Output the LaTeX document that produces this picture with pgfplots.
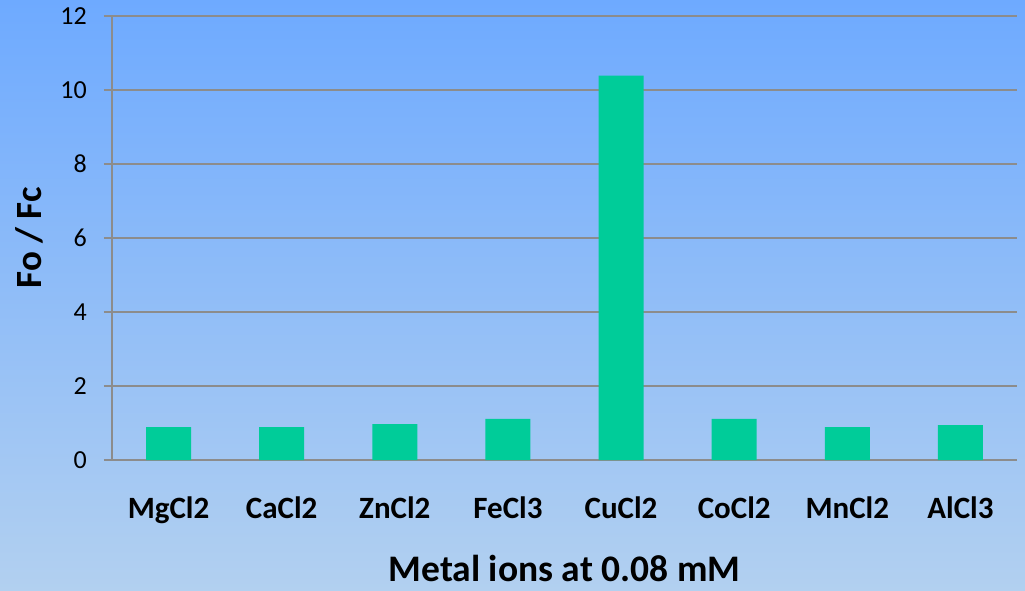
\documentclass[border=0pt]{standalone}
\usepackage{pgfplots}
\pgfplotsset{compat=1.18}
\usepackage{fontspec}
\setmainfont{Carlito}
\definecolor{barcol}{HTML}{00CC99}
\definecolor{bgtop}{HTML}{6EAAFF}
\definecolor{bgbot}{HTML}{B2D0F0}
\definecolor{gridcol}{HTML}{8C8C8C}

\begin{document}
\begin{tikzpicture}
  \shade[top color=bgtop, bottom color=bgbot] (0pt,0pt) rectangle (1025pt,-591pt);
  \useasboundingbox (0pt,0pt) rectangle (1025pt,-591pt);
  \begin{axis}[
      at={(112pt,-460pt)}, anchor=south west,
      width=905pt, height=444pt, scale only axis,
      ybar, bar width=45pt,
      xmin=-0.5, xmax=7.5,
      ymin=0, ymax=12,
      ytick={0,2,...,12},
      xtick=data,
      xticklabels={MgCl2, CaCl2, ZnCl2, FeCl3, CuCl2, CoCl2, MnCl2, AlCl3},
      axis x line*=bottom, axis y line*=left,
      axis line style={draw=gridcol, line width=1.5pt, -},
      ymajorgrids=true,
      grid style={draw=gridcol, line width=1.5pt},
      major tick length=8pt,
      ytick style={draw=gridcol, line width=1.5pt},
      xtick style={draw=none},
      tick align=outside,
      /pgf/number format/assume math mode=true,
      yticklabel style={font=\fontsize{26}{30}\selectfont, anchor=east, inner sep=0pt, xshift=-17pt},
      xticklabel style={font=\bfseries\fontsize{31}{36}\selectfont, anchor=base, inner sep=0pt, yshift=-50pt},
      xlabel={Metal ions at 0.08 mM},
      xlabel style={font=\bfseries\fontsize{37.5}{42}\selectfont, at={(axis description cs:0.5,0)}, anchor=base, inner sep=0pt, yshift=-121pt},
      ylabel={Fo / Fc},
      ylabel style={font=\bfseries\fontsize{37}{42}\selectfont, at={(axis description cs:-0.091,0.5)}, anchor=center, inner sep=0pt},
      clip=false,
    ]
    \addplot[fill=barcol, draw=none] coordinates {
      (0,0.89) (1,0.89) (2,0.97) (3,1.11) (4,10.39) (5,1.11) (6,0.89) (7,0.94)
    };
  \end{axis}
\end{tikzpicture}
\end{document}
